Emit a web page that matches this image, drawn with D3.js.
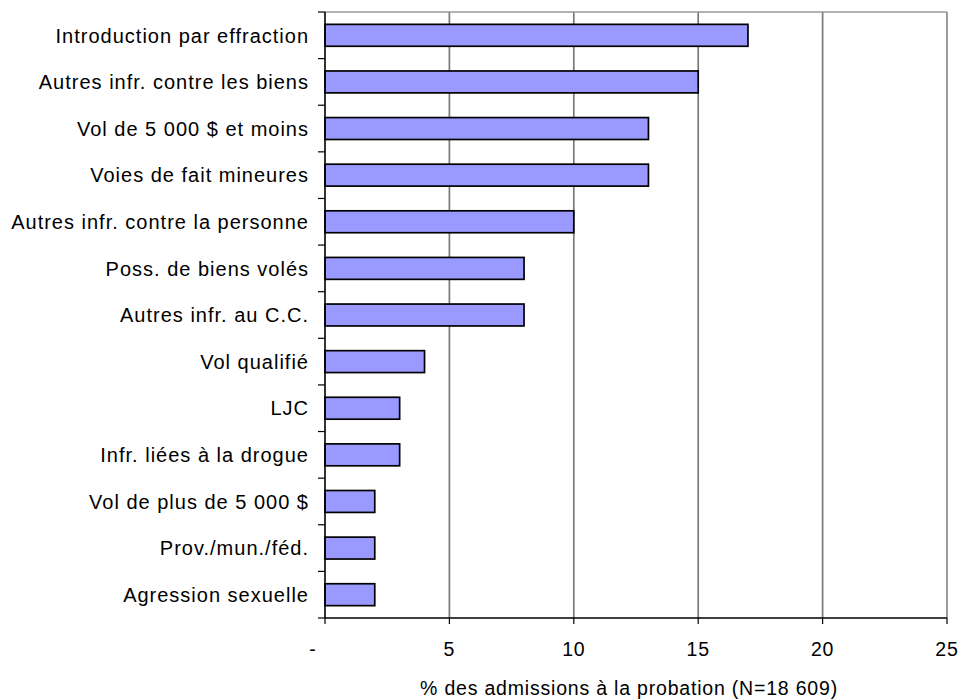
<!DOCTYPE html>
<html>
<head>
<meta charset="utf-8">
<script src="https://cdn.jsdelivr.net/npm/d3@7"></script>
<style>
  html, body { margin: 0; padding: 0; background: #fff; }
  svg { display: block; }
  text { font-family: "Liberation Sans", Arial, sans-serif; fill: #000; font-size: 19.5px; letter-spacing: 0.8px; }
  text.cat { font-size: 20px; letter-spacing: 1px; }
</style>
</head>
<body>
<svg id="chart" width="961" height="700"></svg>
<script>
// Infractions à l'admission en probation
const categories = [
  "Introduction par effraction",
  "Autres infr. contre les biens",
  "Vol de 5 000 $ et moins",
  "Voies de fait mineures",
  "Autres infr. contre la personne",
  "Poss. de biens volés",
  "Autres infr. au C.C.",
  "Vol qualifié",
  "LJC",
  "Infr. liées à la drogue",
  "Vol de plus de 5 000 $",
  "Prov./mun./féd.",
  "Agression sexuelle"
];
const values = [17, 15, 13, 13, 10, 8, 8, 4, 3, 3, 2, 2, 2];
const xTicks = [0, 5, 10, 15, 20, 25];
const xTickLabels = ["-", "5", "10", "15", "20", "25"];
const xTitle = "% des admissions à la probation  (N=18 609)";

const svg = d3.select("#chart");
const plot = { left: 325, right: 947, top: 12, bottom: 618 };

const x = d3.scaleLinear().domain([0, 25]).range([plot.left, plot.right]);
const y = d3.scaleBand().domain(categories).range([plot.top, plot.bottom]).paddingInner(0.53).paddingOuter(0.265);

// grid lines
svg.append("g").selectAll("line").data(xTicks.slice(1)).join("line")
  .attr("x1", d => x(d)).attr("x2", d => x(d))
  .attr("y1", plot.top).attr("y2", plot.bottom)
  .attr("stroke", d => d === 25 ? "#8c8c8c" : "#7a7a7a")
  .attr("stroke-width", 1.7);

// top border of plot area
svg.append("line")
  .attr("x1", plot.left).attr("x2", plot.right)
  .attr("y1", plot.top).attr("y2", plot.top)
  .attr("stroke", "#999").attr("stroke-width", 1.6);

// bars
svg.append("g").selectAll("rect").data(values).join("rect")
  .attr("x", x(0))
  .attr("y", (d, i) => y(categories[i]))
  .attr("width", d => x(d) - x(0))
  .attr("height", y.bandwidth())
  .attr("fill", "#9999ff")
  .attr("stroke", "#000")
  .attr("stroke-width", 1.7);

// y axis with ticks between categories
const yAxis = svg.append("g");
yAxis.append("line")
  .attr("x1", plot.left).attr("x2", plot.left)
  .attr("y1", plot.top).attr("y2", plot.bottom)
  .attr("stroke", "#000").attr("stroke-width", 1.6);
yAxis.selectAll("line.tick").data(d3.range(categories.length + 1)).join("line")
  .attr("class", "tick")
  .attr("x1", plot.left - 7).attr("x2", plot.left)
  .attr("y1", i => plot.top + i * (plot.bottom - plot.top) / categories.length)
  .attr("y2", i => plot.top + i * (plot.bottom - plot.top) / categories.length)
  .attr("stroke", "#000").attr("stroke-width", 1.2);
yAxis.selectAll("text").data(categories).join("text")
  .attr("class", "cat")
  .attr("x", 309)
  .attr("y", d => y(d) + y.bandwidth() / 2)
  .attr("dy", "0.36em")
  .attr("text-anchor", "end")
  .text(d => d);

// x axis
const xAxis = svg.append("g");
xAxis.append("line")
  .attr("x1", plot.left).attr("x2", plot.right)
  .attr("y1", plot.bottom).attr("y2", plot.bottom)
  .attr("stroke", "#000").attr("stroke-width", 1.6);
xAxis.selectAll("line.tick").data(xTicks).join("line")
  .attr("class", "tick")
  .attr("x1", d => x(d)).attr("x2", d => x(d))
  .attr("y1", plot.bottom).attr("y2", plot.bottom + 6)
  .attr("stroke", "#000").attr("stroke-width", 1.2);
xAxis.selectAll("text").data(xTicks).join("text")
  .attr("x", (d, i) => i === 0 ? x(d) - 12 : x(d))
  .attr("y", 656)
  .attr("text-anchor", "middle")
  .text((d, i) => xTickLabels[i]);

svg.append("text")
  .attr("x", 629)
  .attr("y", 695)
  .attr("text-anchor", "middle")
  .text(xTitle);
</script>
</body>
</html>
